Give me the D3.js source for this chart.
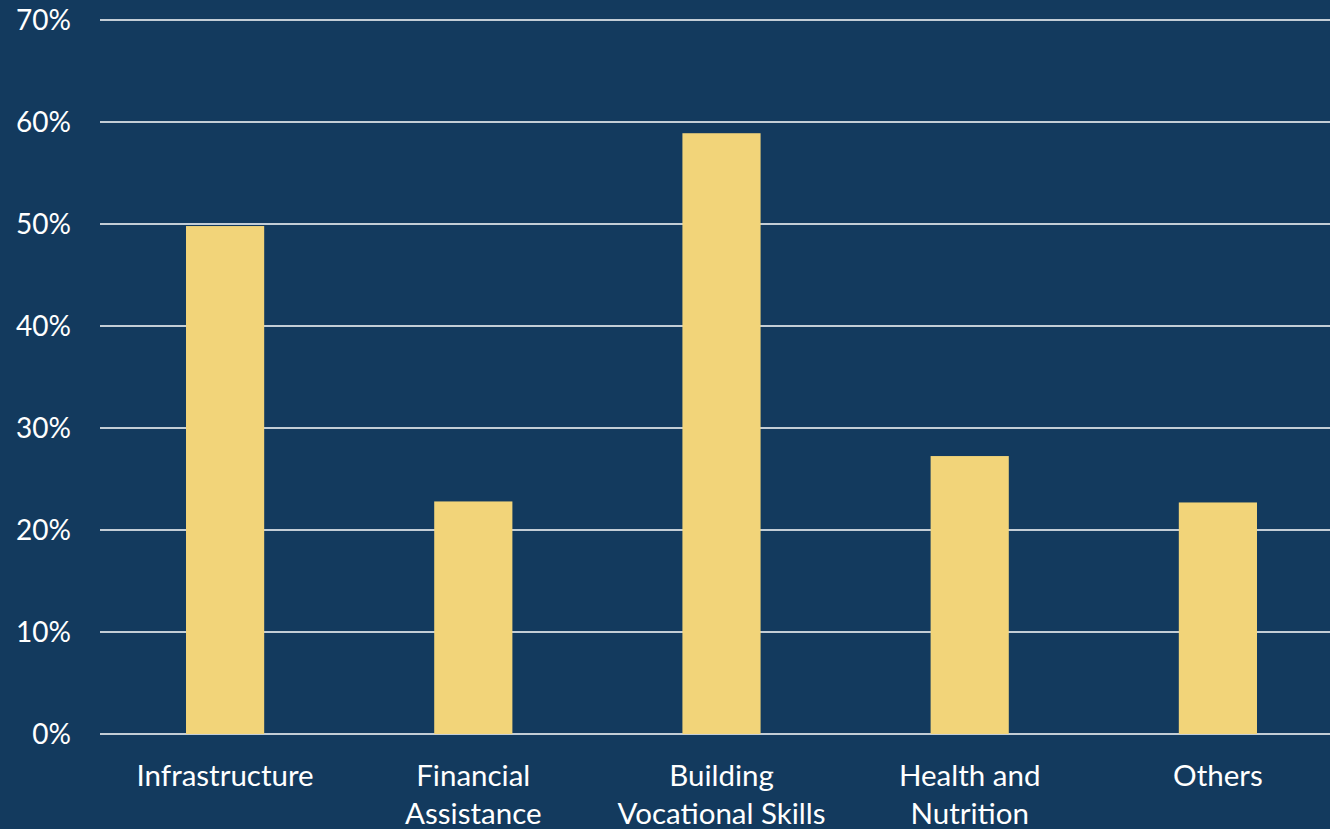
<!DOCTYPE html>
<html>
<head>
<meta charset="utf-8">
<script src="https://cdn.jsdelivr.net/npm/d3@7"></script>
<style>
  html, body { margin: 0; padding: 0; background: #133a5e; overflow: hidden; }
  svg { display: block; }
  text { font-family: Lato, "Open Sans", sans-serif; fill: #ffffff; }
</style>
</head>
<body>
<svg id="chart" width="1330" height="829"></svg>
<script>
// Share of respondents by area of support
const categories = [
  ["Infrastructure"],
  ["Financial", "Assistance"],
  ["Building", "Vocational Skills"],
  ["Health and", "Nutrition"],
  ["Others"]
];
const values = [49.8, 22.8, 58.9, 27.25, 22.7];
const yTicks = [0, 10, 20, 30, 40, 50, 60, 70];

const W = 1330, H = 829;
const margin = { left: 101, right: -12, top: 20, bottom: 95 };

const svg = d3.select("#chart");

const x = d3.scaleBand()
  .domain(categories.map((d, i) => i))
  .range([margin.left, W - margin.right])
  .padding(0);

const y = d3.scaleLinear()
  .domain([0, 70])
  .range([H - margin.bottom, margin.top]);

// horizontal gridlines
svg.append("g")
  .selectAll("line")
  .data(yTicks)
  .join("line")
  .attr("x1", 100)
  .attr("x2", W)
  .attr("y1", d => y(d))
  .attr("y2", d => y(d))
  .attr("stroke", "#ffffff")
  .attr("stroke-width", 1.5);

// y-axis labels
svg.append("g")
  .selectAll("text")
  .data(yTicks)
  .join("text")
  .attr("x", 71)
  .attr("y", d => y(d))
  .attr("dy", "0.36em")
  .attr("text-anchor", "end")
  .style("font-size", "28px")
  .text(d => d + "%");

// bars
const barW = x.bandwidth() * 0.315;
svg.append("g")
  .selectAll("rect")
  .data(values)
  .join("rect")
  .attr("x", (d, i) => x(i) + x.bandwidth() / 2 - barW / 2)
  .attr("width", barW)
  .attr("y", d => y(d))
  .attr("height", d => y(0) - y(d))
  .attr("fill", "#f2d479");

// category labels
const lab = svg.append("g")
  .selectAll("text")
  .data(categories)
  .join("text")
  .attr("text-anchor", "middle")
  .attr("x", (d, i) => x(i) + x.bandwidth() / 2)
  .attr("y", y(0) + 41)
  .style("font-size", "29.5px");
lab.selectAll("tspan")
  .data(d => d)
  .join("tspan")
  .attr("x", function () { return this.parentNode.getAttribute("x"); })
  .attr("dy", (d, i) => i === 0 ? "0.36em" : "38px")
  .text(d => d);
</script>
</body>
</html>
